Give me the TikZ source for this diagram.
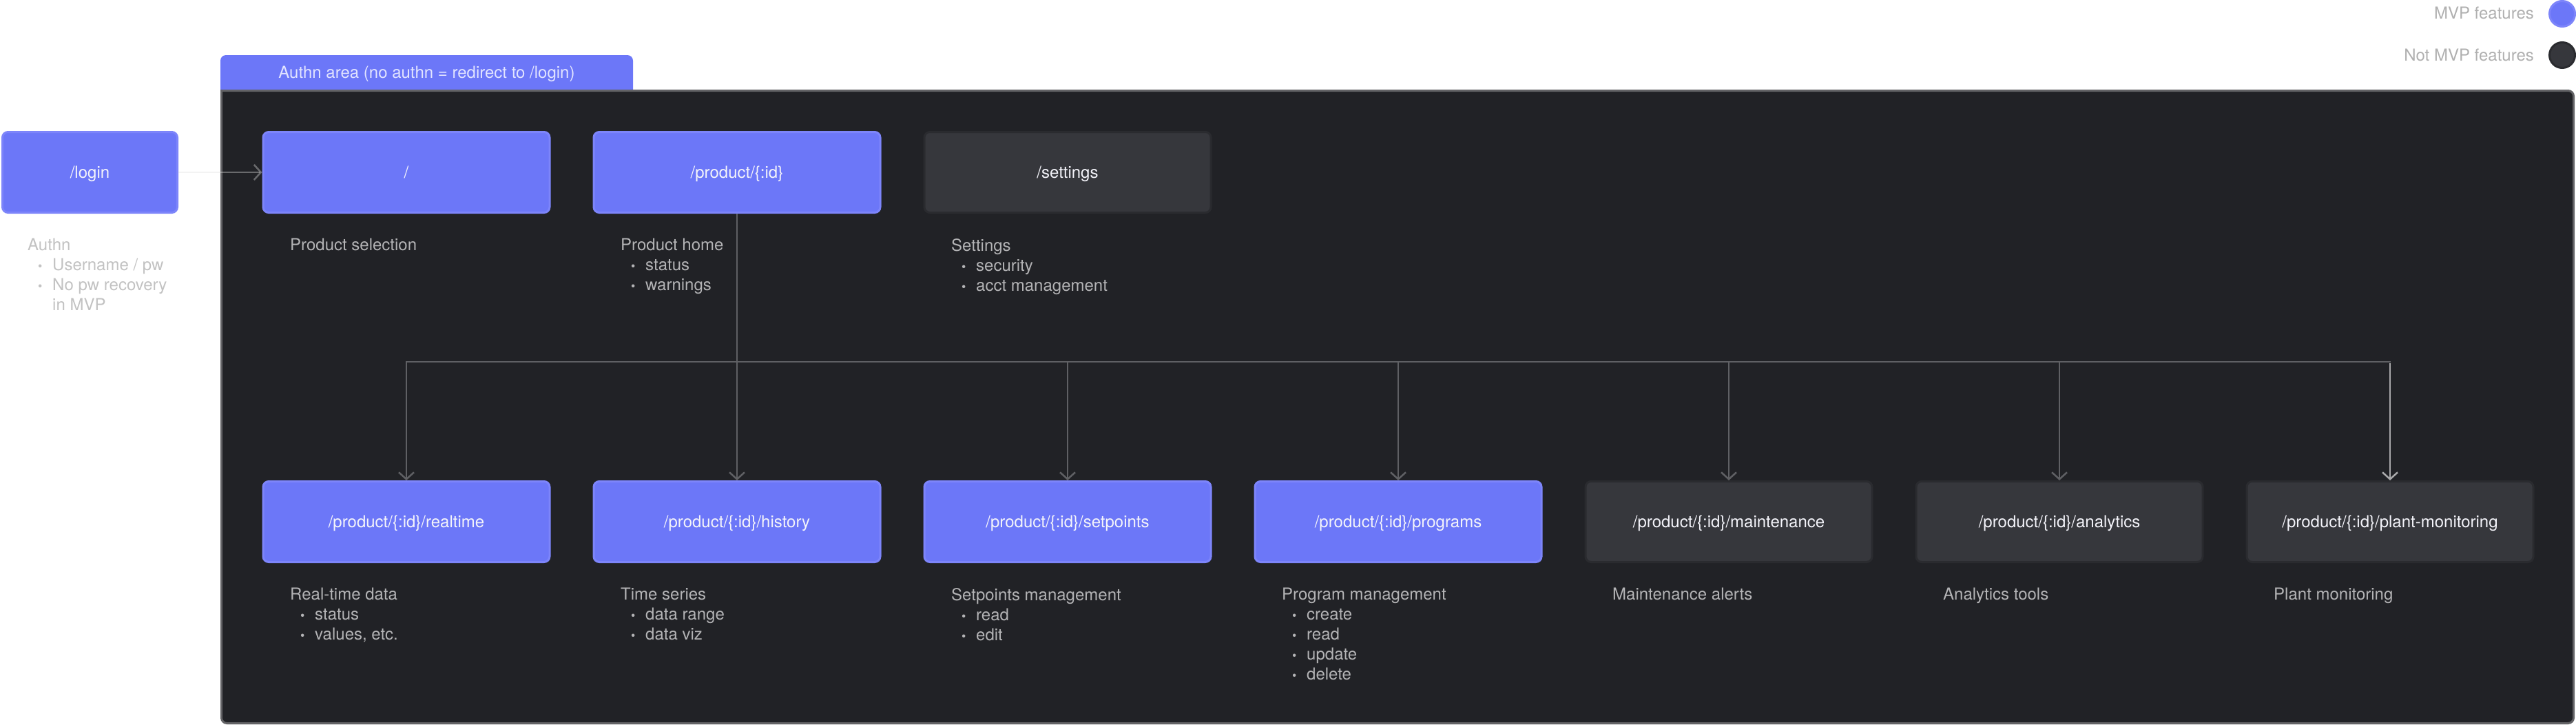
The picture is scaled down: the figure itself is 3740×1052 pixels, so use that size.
\documentclass[tikz,border=0pt]{standalone}
\usepackage{fontspec}
\setmainfont{TeX Gyre Heros}
\usetikzlibrary{arrows.meta}
\definecolor{areafill}{HTML}{212226}
\definecolor{areaborder}{HTML}{636366}
\definecolor{mvpfill}{HTML}{6C77F8}
\definecolor{mvpborder}{HTML}{7D85FA}
\definecolor{nofill}{HTML}{36373C}
\definecolor{noborder}{HTML}{2A2B2F}
\definecolor{connc}{HTML}{5F6064}
\definecolor{connlight}{HTML}{A9A9AB}
\definecolor{loginconn}{HTML}{E0E0E0}
\definecolor{boxtext}{HTML}{F4F4FA}
\definecolor{labeltext}{HTML}{B4B4B6}
\definecolor{tabtext}{HTML}{E2E4FF}
\definecolor{legendtext}{HTML}{B0B0B0}
\definecolor{outtext}{HTML}{C2C2C2}
\newcommand\fs{\fontsize{24}{29}\selectfont}
\newcommand\bitem[1]{\\\hspace*{15pt}\makebox[21pt][l]{{\fontsize{18}{29}\selectfont\textbullet}}#1}
\begin{document}
\begin{tikzpicture}[x=1pt,y=-1pt,
  mvp/.style={rectangle, rounded corners=8pt, minimum width=416pt, minimum height=117pt,
    fill=mvpfill, draw=mvpborder, line width=3pt, text=boxtext, font=\fs,
    inner sep=0pt, text height=17pt, text depth=0pt},
  nomvp/.style={mvp, fill=nofill, draw=noborder},
  desc/.style={anchor=north west, align=left, inner sep=0pt, text=labeltext, font=\fs},
  conn/.style={draw=connc, line width=2.5pt, -{Straight Barb[length=10pt, width=22pt]}},
  bus/.style={draw=connc, line width=2.5pt, line cap=rect},
  legendtxt/.style={anchor=east, inner sep=0pt, text=legendtext, font=\fs, text height=17pt, text depth=0pt},
  dot/.style={circle, minimum size=37pt, inner sep=0pt, line width=3pt},
]
\useasboundingbox (0,0) rectangle (3740,1052);
\fill[white] (0,0) rectangle (3740,1052);

% tab
\fill[mvpfill, rounded corners=8pt] (320,80) rectangle (919,140);
% authn area
\draw[fill=areafill, draw=areaborder, line width=3pt]
  (321.5,131.5) [rounded corners=8pt] -- (3736.5,131.5) -- (3736.5,1049.5) -- (321.5,1049.5) [sharp corners] -- cycle;
\node[font=\fs, text=tabtext, inner sep=0pt, text height=17pt, text depth=0pt] (tab) at (619.5,105) {Authn area (no authn = redirect to /login)};

% legend
\node[legendtxt] (mvplbl) at (3679,19) {MVP features};
\node[dot, fill=mvpfill, draw=mvpborder] (mvpdot) at (3720,20) {};
\node[legendtxt] (nolbl) at (3679,80) {Not MVP features};
\node[dot, fill=nofill, draw=noborder] (nodot) at (3720,80) {};

% top row
\node[mvp, minimum width=254pt] (login) at (130.5,250) {/login};
\node[mvp] (root) at (590,250) {/};
\node[mvp] (product) at (1070,250) {/product/\{:id\}};
\node[nomvp] (settings) at (1550,250) {/settings};

% bottom row
\node[mvp] (realtime) at (590,757) {/product/\{:id\}/realtime};
\node[mvp] (history) at (1070,757) {/product/\{:id\}/history};
\node[mvp] (setpoints) at (1550,757) {/product/\{:id\}/setpoints};
\node[mvp] (programs) at (2030,757) {/product/\{:id\}/programs};
\node[nomvp] (maintenance) at (2510,757) {/product/\{:id\}/maintenance};
\node[nomvp] (analytics) at (2990,757) {/product/\{:id\}/analytics};
\node[nomvp] (plant) at (3470,757) {/product/\{:id\}/plant-monitoring};

% descriptions
\node[desc, text=outtext] (authnd) at (40,346) {Authn\bitem{Username / pw}\bitem{No pw recovery}\\\hspace*{36pt}in MVP};
\node[desc] (rootd) at (421,346) {Product selection};
\node[desc] (productd) at (901,346) {Product home\bitem{status}\bitem{warnings}};
\node[desc] (settingsd) at (1381,346) {Settings\bitem{security}\bitem{acct management}};
\node[desc] (realtimed) at (421,853) {Real-time data\bitem{status}\bitem{values, etc.}};
\node[desc] (historyd) at (901,853) {Time series\bitem{data range}\bitem{data viz}};
\node[desc] (setpointsd) at (1381,853) {Setpoints management\bitem{read}\bitem{edit}};
\node[desc] (programsd) at (1861,853) {Program management\bitem{create}\bitem{read}\bitem{update}\bitem{delete}};
\node[desc] (maintenanced) at (2341,853) {Maintenance alerts};
\node[desc] (analyticsd) at (2821,853) {Analytics tools};
\node[desc] (plantd) at (3301,853) {Plant monitoring};

% connectors
\draw[conn, draw=loginconn, draw opacity=0.38] (login) -- (root);
\draw[conn] (product) -- (history);
\coordinate (b1) at (590,525);
\coordinate (b3) at (1550,525);
\coordinate (b4) at (2030,525);
\coordinate (b5) at (2510,525);
\coordinate (b6) at (2990,525);
\coordinate (b7) at (3470,525);
\draw[bus] (b1) -- (b7);
\draw[conn] (b1) -- (realtime);
\draw[conn] (b3) -- (setpoints);
\draw[conn] (b4) -- (programs);
\draw[conn] (b5) -- (maintenance);
\draw[conn] (b6) -- (analytics);
\draw[conn, draw=connlight] ([yshift=-2pt]b7) -- (plant);
\end{tikzpicture}
\end{document}
